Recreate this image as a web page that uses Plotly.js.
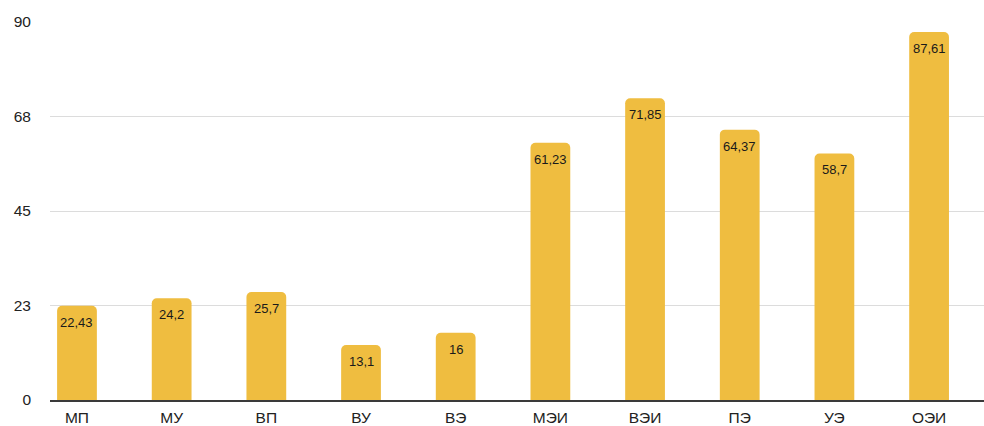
<!DOCTYPE html>
<html>
<head>
<meta charset="utf-8">
<script src="https://cdn.plot.ly/plotly-3.0.1.min.js"></script>
<style>
  html, body { margin: 0; padding: 0; background: #ffffff; }
  #chart { width: 984px; height: 426px; }
</style>
</head>
<body>
<div id="chart"></div>
<script>
// Indicator codes along the horizontal axis
const categories = ['МП', 'МУ', 'ВП', 'ВУ', 'ВЭ', 'МЭИ', 'ВЭИ', 'ПЭ', 'УЭ', 'ОЭИ'];
// Indicator values
const values = [22.43, 24.2, 25.7, 13.1, 16, 61.23, 71.85, 64.37, 58.7, 87.61];
// Value axis ticks and their printed labels
const yTickVals = [0, 22.5, 45, 67.5, 90];
const yTickText = ['0', '23', '45', '68', '90'];

// Labels printed with a decimal comma
const labels = values.map(v => String(v).replace('.', ','));

const FONT = '"Liberation Sans", Arial, Helvetica, sans-serif';

const trace = {
  type: 'bar',
  x: categories,
  y: values,
  marker: { color: '#EFBD40', cornerradius: 5, line: { width: 0 } },
  width: 0.42,
  hoverinfo: 'x+y'
};

// Value labels sit just inside the top of each bar
const valueLabels = categories.map((c, i) => ({
  x: c,
  y: values[i],
  xref: 'x',
  yref: 'y',
  text: labels[i],
  showarrow: false,
  yanchor: 'top',
  yshift: -7,
  font: { family: FONT, size: 13, color: '#1a1a1a' }
}));

const layout = {
  width: 984,
  height: 426,
  margin: { l: 50, r: 0, t: 22, b: 26 },
  paper_bgcolor: '#ffffff',
  plot_bgcolor: '#ffffff',
  showlegend: false,
  font: { family: FONT, color: '#222222' },
  annotations: valueLabels,
  xaxis: {
    type: 'category',
    range: [-0.285, 9.58],
    showgrid: false,
    zeroline: false,
    showline: true,
    linecolor: '#3a3a3a',
    linewidth: 2,
    ticks: '',
    ticklabelstandoff: 2,
    tickfont: { family: FONT, size: 15.5, color: '#222222' },
    fixedrange: true
  },
  yaxis: {
    range: [0, 90],
    tickvals: yTickVals,
    ticktext: yTickText,
    showgrid: true,
    gridcolor: '#dcdcdc',
    gridwidth: 1,
    zeroline: false,
    showline: false,
    ticks: '',
    ticklabelstandoff: 18,
    tickfont: { family: FONT, size: 15.5, color: '#222222' },
    fixedrange: true
  }
};

Plotly.newPlot('chart', [trace], layout, { displayModeBar: false, staticPlot: true });
</script>
</body>
</html>
